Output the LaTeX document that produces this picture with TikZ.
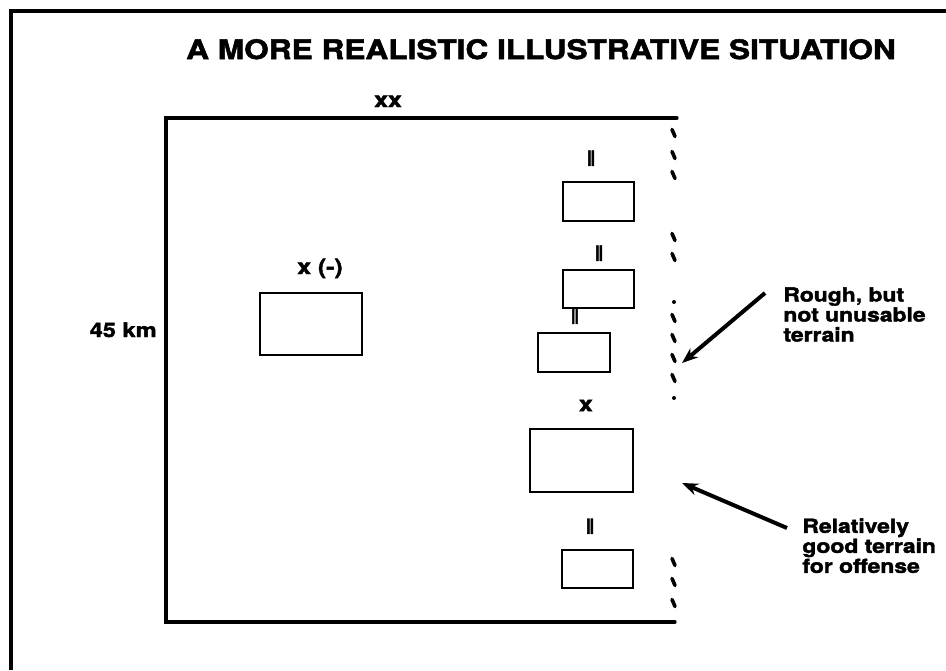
\documentclass[tikz,border=0pt]{standalone}
\usepackage{fontspec}
\usepackage{tikz}
\usetikzlibrary{arrows.meta,positioning,calc}
\newfontfamily\heavyfont[FakeStretch=1.18,BoldFeatures={FakeBold=2}]{TeX Gyre Heros}
\newfontfamily\barfont[FakeStretch=0.6,BoldFeatures={FakeBold=2}]{TeX Gyre Heros}
\tikzstyle{unit} = [rectangle, draw, line width=1.4pt, inner sep=0pt,
    minimum width=35.5pt, minimum height=19.5pt]
\tikzstyle{echelon} = [inner sep=0pt, font=\heavyfont\bfseries\fontsize{10.5}{11}\selectfont]
\tikzstyle{note} = [inner sep=0pt, align=left,
    font=\heavyfont\bfseries\fontsize{9.7}{10}\selectfont]
\tikzstyle{pointer} = [-{Stealth[length=8pt,width=6pt]}, line width=2pt]
\tikzstyle{edge} = [line width=1.6pt, line cap=round]
\tikzstyle{terrain} = [line width=1.8pt, line cap=round]
\newcommand{\bars}{{\barfont\bfseries II}}

\begin{document}
\begin{tikzpicture}[x=0.5pt, y=-0.5pt]
\useasboundingbox (0,0) rectangle (946,670);

% page border
\draw[line width=2pt] (10.5,670) -- (10.5,11) -- (946,11);

\node[inner sep=0pt, anchor=base, font=\heavyfont\bfseries\fontsize{13.4}{14}\selectfont]
    (title) at (541,59) {A MORE REALISTIC ILLUSTRATIVE SITUATION};

% division sector
\draw[edge] (677,118) -- (166,118) -- (166,622) -- (675,622);
\node[echelon, anchor=base] (div) at (388,107) {xx};
\node[note, anchor=base east, font=\heavyfont\bfseries\fontsize{10}{11}\selectfont]
    (width) at (157,337) {45 km};

% units
\node[unit, minimum width=51pt, minimum height=31pt,
    label={[echelon, label distance=6.5pt, xshift=4.5pt]above:x (-)}] (reserve) at (311,324) {};
\node[unit, label={[echelon, label distance=7.2pt, xshift=-3.7pt]above:\bars}] (bn1) at (598.5,201.5) {};
\node[unit, minimum height=19pt,
    label={[echelon, label distance=3.7pt, xshift=0.3pt]above:\bars}] (bn2) at (598.5,289) {};
\node[unit, minimum width=36pt,
    label={[echelon, label distance=3.7pt, xshift=0.5pt]above:\bars}] (bn3) at (574,352.5) {};
\node[unit, minimum width=51.5pt, minimum height=31.5pt,
    label={[echelon, label distance=8pt, xshift=2.2pt]above:x}] (bde) at (581.5,460.5) {};
\node[unit, minimum height=19pt,
    label={[echelon, label distance=7.2pt, xshift=-3.7pt]above:\bars}] (bn4) at (597.5,569) {};

% broken terrain along the forward edge
\foreach \y in {133,155,175,237,257,318,338,358,378,562,582,603}
    \draw[terrain] (672,{\y-3.5}) -- (675,{\y+3.5});
\foreach \y in {302,398}
    \fill (674,\y) circle (1pt);

% notes
\node[note, anchor=north west] (rough) at (783,287) {Rough, but\\not unusable\\terrain};
\node[note, anchor=north west] (good) at (802,518) {Relatively\\good terrain\\for offense};
\coordinate (roughspot) at (682,363);
\coordinate (goodspot) at (682,483);
\draw[pointer] ($(rough.north west)+(-18,6)$) -- (roughspot);
\draw[pointer] ($(good.north west)+(-15,10)$) -- (goodspot);
\end{tikzpicture}
\end{document}
